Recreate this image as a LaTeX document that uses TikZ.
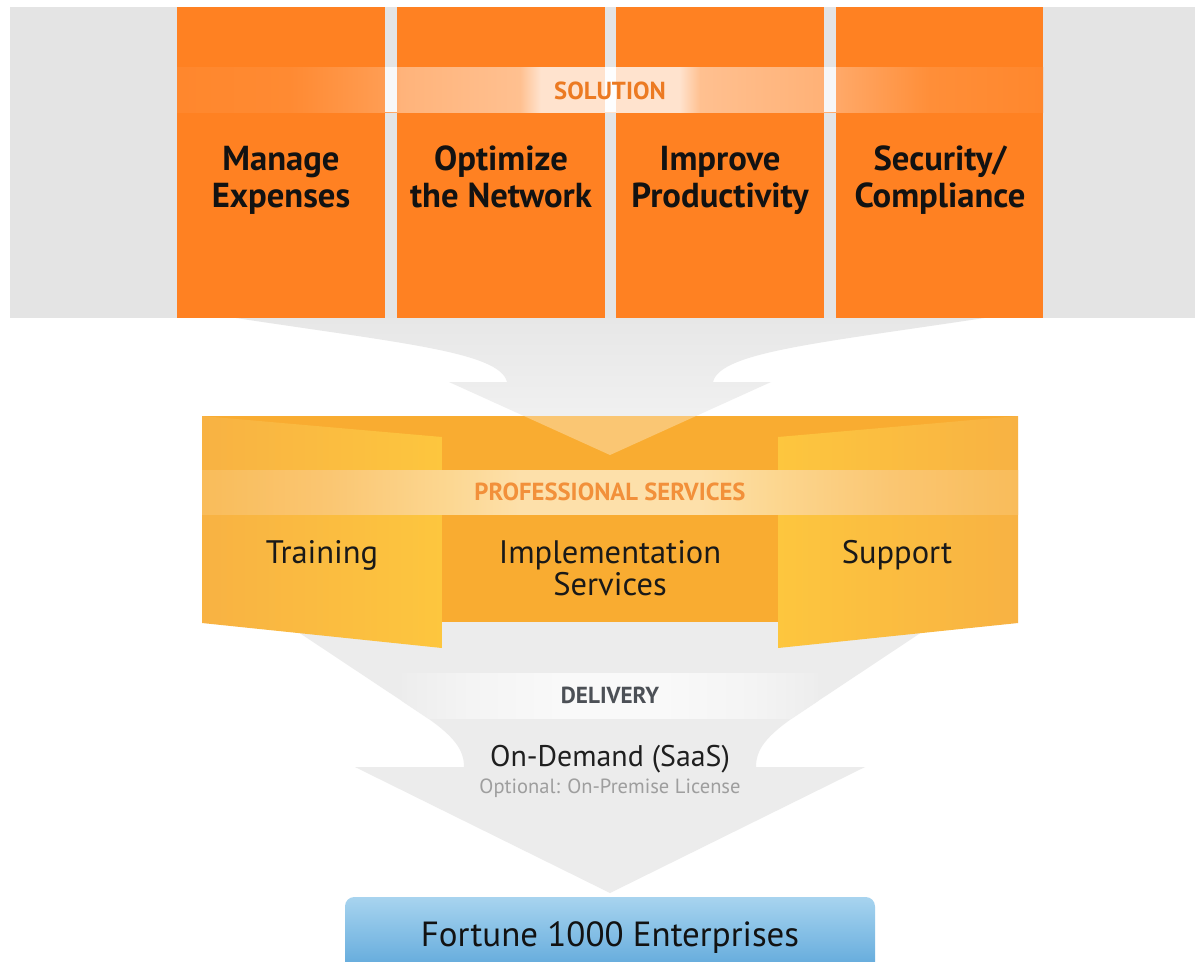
\documentclass[tikz,border=0pt]{standalone}
\usepackage{fontspec}
\setmainfont{PT Sans}
\definecolor{bandgray}{HTML}{E4E4E4}
\definecolor{solorange}{HTML}{FF8122}
\definecolor{funnelgray}{HTML}{ECECEC}
\definecolor{funneltop}{HTML}{E7E7E7}
\definecolor{funnelbot}{HTML}{F4F4F4}
\definecolor{psback}{HTML}{F9AC31}
\definecolor{flapout}{HTML}{F8B243}
\definecolor{flapin}{HTML}{FDC63E}
\definecolor{soltext}{HTML}{EC7A22}
\definecolor{pstext}{HTML}{F2903A}
\definecolor{deltext}{HTML}{4C5056}
\definecolor{opttext}{HTML}{9E9E9E}
\definecolor{bluetop}{HTML}{A8D4EF}
\definecolor{bluebot}{HTML}{5BA6DA}
\pgfdeclarehorizontalshading{solband}{100bp}{%
  color(0bp)=(rgb,255:red,255;green,135;blue,45);
  color(25bp)=(rgb,255:red,255;green,135;blue,45);
  color(31.5bp)=(rgb,255:red,255;green,138;blue,50);
  color(37bp)=(rgb,255:red,255;green,157;blue,83);
  color(37.9bp)=(rgb,255:red,255;green,179;blue,122);
  color(44.8bp)=(rgb,255:red,255;green,192;blue,144);
  color(46bp)=(rgb,255:red,255;green,227;blue,206);
  color(54bp)=(rgb,255:red,255;green,227;blue,206);
  color(55.2bp)=(rgb,255:red,255;green,192;blue,144);
  color(62.4bp)=(rgb,255:red,255;green,177;blue,118);
  color(63bp)=(rgb,255:red,255;green,169;blue,105);
  color(68.5bp)=(rgb,255:red,255;green,142;blue,56);
  color(75bp)=(rgb,255:red,255;green,135;blue,45);
  color(100bp)=(rgb,255:red,255;green,135;blue,45)}
\pgfdeclarehorizontalshading{psband}{100bp}{%
  color(0bp)=(rgb,255:red,249;green,188;blue,90);
  color(25bp)=(rgb,255:red,249;green,188;blue,90);
  color(32.8bp)=(rgb,255:red,250;green,198;blue,114);
  color(39.7bp)=(rgb,255:red,252;green,214;blue,143);
  color(44.5bp)=(rgb,255:red,253;green,224;blue,170);
  color(55.5bp)=(rgb,255:red,253;green,224;blue,170);
  color(60.3bp)=(rgb,255:red,252;green,214;blue,143);
  color(67.2bp)=(rgb,255:red,250;green,198;blue,114);
  color(75bp)=(rgb,255:red,249;green,188;blue,90);
  color(100bp)=(rgb,255:red,249;green,188;blue,90)}
\pgfdeclarehorizontalshading{delband}{100bp}{%
  color(0bp)=(rgb,255:red,237;green,237;blue,237);
  color(25bp)=(rgb,255:red,237;green,237;blue,237);
  color(33.2bp)=(rgb,255:red,244;green,244;blue,244);
  color(44.1bp)=(rgb,255:red,249;green,249;blue,249);
  color(56.2bp)=(rgb,255:red,249;green,249;blue,249);
  color(67.1bp)=(rgb,255:red,244;green,244;blue,244);
  color(75bp)=(rgb,255:red,237;green,237;blue,237);
  color(100bp)=(rgb,255:red,237;green,237;blue,237)}
\begin{document}
\begin{tikzpicture}[x=0.75pt,y=-0.75pt,
  solbox/.style={fill=solorange},
  boxtext/.style={font=\fontsize{26}{30}\selectfont\bfseries, text=black!93, anchor=base, inner sep=0pt},
  bandlabel/.style={font=\fontsize{18.5}{20}\selectfont\bfseries, anchor=base, inner sep=0pt},
  pstxt/.style={font=\fontsize{24.4}{28}\selectfont, text=black!90, anchor=base, inner sep=0pt}]
\useasboundingbox (0,0) rectangle (1195,961);
\clip (0,0) rectangle (1195,961);
\fill[white] (0,0) rectangle (1195,961);
% top gray band
\fill[bandgray] (10,7) rectangle (1195,318);
% upper funnel
\shade[top color=funneltop, bottom color=funnelbot] (236,318) .. controls (400,343) and (500,352) .. (507,382) -- (449,382) -- (610,455) -- (771,382) -- (713,382) .. controls (720,352) and (820,343) .. (984,318) -- cycle;
% solution boxes
\fill[solbox] (177,7) rectangle (385,318);
\fill[solbox] (397,7) rectangle (605,318);
\fill[solbox] (616,7) rectangle (824,318);
\fill[solbox] (836,7) rectangle (1043,318);
\shade[shading=solband] (177,67) rectangle (1043,112);
\fill[white!75!bandgray] (385,67) rectangle (397,112);
\fill[white!95!bandgray] (605,67) rectangle (616,112);
\fill[white!72!bandgray] (824,67) rectangle (836,112);
% lower funnel
\fill[funnelgray] (283,622) -- (420,713) .. controls (455,736) and (464,750) .. (464,767) -- (355,767) -- (610,893) -- (865,767) -- (756,767) .. controls (756,750) and (765,736) .. (800,713) -- (937,622) -- cycle;
\begin{scope}
\clip (283,622) -- (420,713) .. controls (455,736) and (464,750) .. (464,767) -- (355,767) -- (610,893) -- (865,767) -- (756,767) .. controls (756,750) and (765,736) .. (800,713) -- (937,622) -- cycle;
\shade[shading=delband] (402,673) rectangle (818,718);
\end{scope}
% professional services
\fill[psback] (202,416) rectangle (1018,622);
\begin{scope}
\clip (202,416) rectangle (1018,622);
\fill[white, opacity=0.32] (449,382) -- (610,455) -- (771,382) -- cycle;
\end{scope}
\shade[left color=flapout, right color=flapin] (202,416) -- (442,437) -- (442,648) -- (202,623) -- cycle;
\shade[left color=flapin, right color=flapout] (778,437) -- (1018,416) -- (1018,623) -- (778,648) -- cycle;
\shade[shading=psband] (202,470) rectangle (1018,514);
% fortune box
\shade[top color=bluetop, bottom color=bluebot, rounded corners=7] (345,897) rectangle (875,975);
% texts
\node[boxtext] (t1a) at (281,170) {Manage};
\node[boxtext] (t1b) at (281,207) {Expenses};
\node[boxtext] (t2a) at (501,170) {Optimize};
\node[boxtext] (t2b) at (501,207) {the Network};
\node[boxtext] (t3a) at (720,170) {Improve};
\node[boxtext] (t3b) at (720,207) {Productivity};
\node[boxtext] (t4a) at (940,170) {Security/};
\node[boxtext] (t4b) at (940,207) {Compliance};
\node[bandlabel, text=soltext] (sol) at (610,99) {SOLUTION};
\node[bandlabel, text=pstext] (ps) at (610,500) {PROFESSIONAL SERVICES};
\node[pstxt] (tr) at (322,563) {Training};
\node[pstxt] (im1) at (610,563) {Implementation};
\node[pstxt] (im2) at (610,595) {Services};
\node[pstxt] (su) at (897,563) {Support};
\node[bandlabel, text=deltext, font=\fontsize{17.4}{20}\selectfont\bfseries] (del) at (610,703) {DELIVERY};
\node[anchor=base, inner sep=0pt, font=\fontsize{22.4}{24}\selectfont, text=black!88] (od) at (610,766) {On-Demand (SaaS)};
\node[anchor=base, inner sep=0pt, font=\fontsize{15.4}{18}\selectfont, text=opttext] (opt) at (610,793) {Optional: On-Premise License};
\node[anchor=base, inner sep=0pt, font=\fontsize{26.2}{30}\selectfont, text=black!93] (f1000) at (610,946) {Fortune 1000 Enterprises};
\end{tikzpicture}
\end{document}
